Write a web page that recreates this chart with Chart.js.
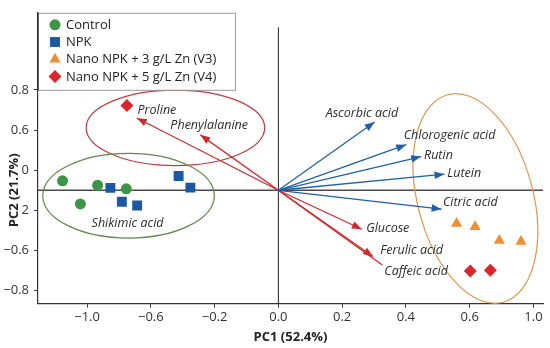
<!DOCTYPE html>
<html>
<head>
<meta charset="utf-8">
<script src="https://cdn.jsdelivr.net/npm/chart.js@4"></script>
<style>
  html, body { margin: 0; padding: 0; background: #fff; }
  #wrap { width: 550px; height: 348px; position: relative; }
</style>
</head>
<body>
<div id="wrap"><canvas id="pcaChart"></canvas></div>
<script>
// Axis ticks (the labels are printed as in the source figure)
const xTickVals = [-0.6, -0.4, -0.2, 0, 0.2, 0.4, 0.6, 0.8];
const xTickLabels = ['\u22121.0', '\u22120.6', '\u22120.2', '0.0', '0.2', '0.4', '0.6', '1.0'];
const yTickVals = [0.5, 0.3, 0.1, -0.1, -0.3, -0.5];
const yTickLabels = ['0.8', '0.6', '0', '2', '\u22120.6', '\u22120.8'];

// Score points per treatment
const groupNames = ['Control', 'NPK', 'Nano NPK + 3 g/L Zn (V3)', 'Nano NPK + 5 g/L Zn (V4)'];
const controlX = [-0.677, -0.621, -0.567, -0.477];
const controlY = [0.047, -0.068, 0.025, 0.007];
const npkX = [-0.527, -0.491, -0.443, -0.313, -0.276];
const npkY = [0.012, -0.057, -0.076, 0.071, 0.013];
const v3X = [0.559, 0.617, 0.693, 0.761];
const v3Y = [-0.166, -0.182, -0.250, -0.255];
const v4X = [-0.475, 0.602, 0.665];
const v4Y = [0.422, -0.402, -0.399];

// Loading vectors (arrow tips)
const blueNames = ['Ascorbic acid', 'Chlorogenic acid', 'Rutin', 'Lutein', 'Citric acid'];
const blueX = [0.302, 0.401, 0.448, 0.521, 0.512];
const blueY = [0.340, 0.227, 0.168, 0.080, -0.094];
const redNames = ['Proline', 'Phenylalanine', 'Glucose', 'Ferulic acid', 'Caffeic acid'];
const redX = [-0.444, -0.245, 0.262, 0.297, 0.326];
const redY = [0.360, 0.276, -0.194, -0.330, -0.372];
const redHead = [true, true, true, true, false];

// Variable labels
const labelText = ['Proline', 'Phenylalanine', 'Shikimic acid', 'Ascorbic acid', 'Chlorogenic acid', 'Rutin',
    'Lutein', 'Citric acid', 'Glucose', 'Ferulic acid', 'Caffeic acid'];
const labelX = [-0.381, -0.217, -0.473, 0.262, 0.537, 0.502, 0.583, 0.602, 0.343, 0.418, 0.432];
const labelY = [0.398, 0.324, -0.166, 0.382, 0.272, 0.176, 0.083, -0.062, -0.190, -0.300, -0.402];

// Group ellipses: centre, radii (data units), tilt in degrees
const ellCX = [-0.323, -0.470, 0.618];
const ellCY = [0.311, -0.027, -0.041];
const ellRX = [0.280, 0.269, 0.181];
const ellRY = [0.188, 0.211, 0.535];
const ellRot = [0, 0, -15];
const ellColors = ['#c43b3b', '#5b8a4a', '#e0954c'];

const colors = { control: '#3a9646', npk: '#1d58a4', v3: '#ef8f34', v4: '#d8262b', blue: '#2060a8', red: '#cc2b2b' };
const vLineTop = 0.812;

const toPts = (xs, ys) => xs.map((x, i) => ({ x, y: ys[i] }));

const groupStyles = [
    { style: 'circle', radius: 5.5, color: colors.control },
    { style: 'rect', radius: 7, color: colors.npk },
    { style: 'triangle', radius: 6.5, color: colors.v3 },
    { style: 'rectRot', radius: 6.5, color: colors.v4 },
];
const groupData = [toPts(controlX, controlY), toPts(npkX, npkY), toPts(v3X, v3Y), toPts(v4X, v4Y)];

const datasets = groupNames.map((name, i) => ({
    label: name,
    data: groupData[i],
    pointStyle: groupStyles[i].style,
    pointRadius: groupStyles[i].radius,
    backgroundColor: groupStyles[i].color,
    borderColor: groupStyles[i].color,
    borderWidth: 0,
    order: 0,
}));

const arrowSets = [];
blueNames.forEach((n, i) => arrowSets.push({ name: n, x: blueX[i], y: blueY[i], color: colors.blue, head: true }));
redNames.forEach((n, i) => arrowSets.push({ name: n, x: redX[i], y: redY[i], color: colors.red, head: redHead[i] }));

arrowSets.forEach(a => {
    datasets.push({
        label: a.name,
        data: [{ x: 0, y: 0 }, { x: a.x, y: a.y }],
        showLine: true,
        borderColor: a.color,
        borderWidth: 1.3,
        pointRadius: 0,
        order: 1,
    });
});

const pcaExtras = {
    id: 'pcaExtras',
    beforeDatasetsDraw(chart) {
        const { ctx, scales: { x, y } } = chart;
        ctx.save();
        // zero lines
        ctx.strokeStyle = '#4a4a4a';
        ctx.lineWidth = 1.3;
        ctx.beginPath();
        ctx.moveTo(x.left, y.getPixelForValue(0));
        ctx.lineTo(x.right, y.getPixelForValue(0));
        ctx.stroke();
        ctx.strokeStyle = '#222';
        ctx.lineWidth = 1;
        ctx.beginPath();
        ctx.moveTo(x.getPixelForValue(0), y.getPixelForValue(vLineTop));
        ctx.lineTo(x.getPixelForValue(0), y.bottom);
        ctx.stroke();
        // ellipses
        ellCX.forEach((cxv, i) => {
            const cx = x.getPixelForValue(cxv);
            const cy = y.getPixelForValue(ellCY[i]);
            const rx = Math.abs(x.getPixelForValue(cxv + ellRX[i]) - cx);
            const ry = Math.abs(y.getPixelForValue(ellCY[i] + ellRY[i]) - cy);
            ctx.strokeStyle = ellColors[i];
            ctx.lineWidth = 1.2;
            ctx.beginPath();
            ctx.ellipse(cx, cy, rx, ry, ellRot[i] * Math.PI / 180, 0, Math.PI * 2);
            ctx.stroke();
        });
        ctx.restore();
    },
    afterDatasetsDraw(chart) {
        const { ctx, scales: { x, y } } = chart;
        ctx.save();
        // arrow heads
        const ox = x.getPixelForValue(0), oy = y.getPixelForValue(0);
        arrowSets.forEach(a => {
            if (!a.head) return;
            const ex = x.getPixelForValue(a.x), ey = y.getPixelForValue(a.y);
            const ang = Math.atan2(ey - oy, ex - ox);
            const len = 10, w = 3.8;
            const bx = ex - len * Math.cos(ang), by = ey - len * Math.sin(ang);
            ctx.fillStyle = a.color;
            ctx.beginPath();
            ctx.moveTo(ex, ey);
            ctx.lineTo(bx - w * Math.sin(ang), by + w * Math.cos(ang));
            ctx.lineTo(bx + w * Math.sin(ang), by - w * Math.cos(ang));
            ctx.closePath();
            ctx.fill();
        });
        // variable labels
        ctx.fillStyle = '#2b2b2b';
        ctx.font = 'italic 12.5px "Open Sans"';
        ctx.textAlign = 'center';
        ctx.textBaseline = 'middle';
        labelText.forEach((t, i) => {
            ctx.fillText(t, x.getPixelForValue(labelX[i]), y.getPixelForValue(labelY[i]));
        });
        ctx.restore();
    },
    afterDraw(chart) {
        const { ctx, chartArea, scales: { y } } = chart;
        ctx.save();
        // y axis title, centred on the PC1 line as in the source
        ctx.fillStyle = '#222';
        ctx.font = 'bold 13px "Open Sans"';
        ctx.textAlign = 'center';
        ctx.textBaseline = 'middle';
        ctx.translate(14, y.getPixelForValue(0));
        ctx.rotate(-Math.PI / 2);
        ctx.fillText('PC2 (21.7%)', 0, 0);
        ctx.setTransform(1, 0, 0, 1, 0, 0);

        // legend box
        const bx = chartArea.left, by = chartArea.top;
        ctx.fillStyle = '#fff';
        ctx.fillRect(bx, by, 197, 77);
        ctx.strokeStyle = '#9a9a9a';
        ctx.lineWidth = 1;
        ctx.strokeRect(bx + 0.5, by + 0.5, 197, 77);
        ctx.strokeStyle = '#222';
        ctx.beginPath();
        ctx.moveTo(bx, by);
        ctx.lineTo(bx, by + 78);
        ctx.stroke();
        ctx.font = '13px "Open Sans"';
        ctx.textBaseline = 'middle';
        ctx.textAlign = 'left';
        groupNames.forEach((name, i) => {
            const cy = by + 12 + i * 17.2;
            const st = groupStyles[i];
            ctx.fillStyle = st.color;
            ctx.strokeStyle = st.color;
            Chart.helpers.drawPoint(ctx, { pointStyle: st.style, radius: st.radius, borderWidth: 0 }, bx + 17, cy);
            ctx.fillStyle = '#222';
            ctx.fillText(name, bx + 28, cy + 0.5);
        });
        ctx.restore();
    },
};

new Chart(document.getElementById('pcaChart'), {
    type: 'scatter',
    data: { datasets },
    options: {
        responsive: true,
        maintainAspectRatio: false,
        animation: false,
        layout: { padding: { top: 3, right: 5, left: 0, bottom: 0 } },
        plugins: { legend: { display: false }, tooltip: { enabled: false } },
        scales: {
            x: {
                type: 'linear',
                min: -0.754,
                max: 0.830,
                afterBuildTicks: axis => { axis.ticks = xTickVals.map(v => ({ value: v })); },
                afterFit: axis => { axis.height = 44.5; },
                grid: { display: true, drawOnChartArea: false, drawTicks: true, tickLength: 4, color: '#333' },
                border: { display: true, color: '#333', width: 1.2 },
                ticks: {
                    color: '#333',
                    font: { family: 'Open Sans', size: 13 },
                    padding: 2,
                    maxRotation: 0,
                    callback: v => {
                        const i = xTickVals.findIndex(t => Math.abs(t - v) < 1e-6);
                        return i >= 0 ? xTickLabels[i] : '';
                    },
                },
                title: {
                    display: true,
                    text: 'PC1 (52.4%)',
                    color: '#222',
                    font: { family: 'Open Sans', size: 13, weight: 'bold' },
                    padding: { top: 0, bottom: 3 },
                },
            },
            y: {
                type: 'linear',
                min: -0.564,
                max: 0.884,
                afterBuildTicks: axis => { axis.ticks = yTickVals.map(v => ({ value: v })); },
                afterFit: axis => { axis.width = 38; },
                grid: { display: true, drawOnChartArea: false, drawTicks: true, tickLength: 4, color: '#333' },
                border: { display: true, color: '#333', width: 1.2 },
                ticks: {
                    color: '#333',
                    font: { family: 'Open Sans', size: 13 },
                    padding: 5,
                    callback: v => {
                        const i = yTickVals.findIndex(t => Math.abs(t - v) < 1e-6);
                        return i >= 0 ? yTickLabels[i] : '';
                    },
                },
            },
        },
    },
    plugins: [pcaExtras],
});
</script>
</body>
</html>
